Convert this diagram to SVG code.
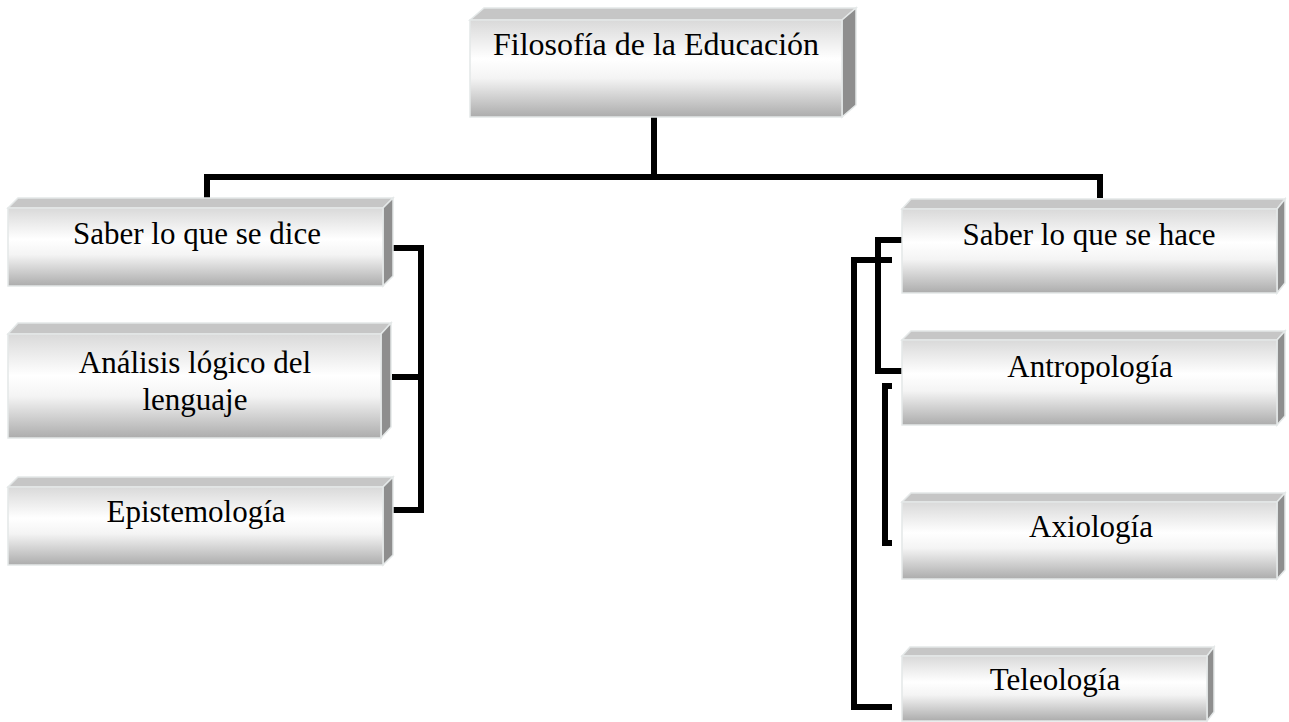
<svg xmlns="http://www.w3.org/2000/svg" width="1289" height="722" viewBox="0 0 1289 722">
<defs>
<linearGradient id="face" x1="0" y1="0" x2="0" y2="1">
<stop offset="0" stop-color="#d9d9d9"/>
<stop offset="0.4" stop-color="#ffffff"/>
<stop offset="0.6" stop-color="#f4f4f4"/>
<stop offset="1" stop-color="#acacac"/>
</linearGradient>
</defs>
<style>
.face{fill:url(#face);stroke:#e4e8e8;stroke-width:1.5}
.top{fill:#c6c6c6;stroke:#e4e8e8;stroke-width:1.5}
.side{fill:#8e8e8e;stroke:#e4e8e8;stroke-width:1.5}
.lbl{font-family:"Liberation Serif","Times New Roman",serif;font-size:31px;fill:#000;text-anchor:middle}
.conn{fill:none;stroke:#000;stroke-width:6;stroke-linejoin:miter;stroke-linecap:butt}
</style>
<rect width="1289" height="722" fill="#ffffff"/>
<g id="connectors">
<path class="conn" d="M654 117 V177"/>
<path class="conn" d="M207 198 V177 H1100 V198"/>
<path class="conn" d="M392 248 H421 V510 H392"/>
<path class="conn" d="M392 377 H421"/>
<path class="conn" d="M902 240 H878 V371 H902"/>
<path class="conn" d="M892 386 H885 V543 H892"/>
<path class="conn" d="M892 260 H854 V707 H892"/>
</g>
<g id="n-filosofia">
<polygon class="top" points="470,20 484,8 856,8 842,20"/>
<polygon class="side" points="842,20 856,8 856,105 842,117"/>
<rect class="face" x="470" y="20" width="372" height="97"/>
<text class="lbl" x="656" y="55" style="font-size:32px">Filosofía de la Educación</text>
</g>
<g id="n-saber-dice">
<polygon class="top" points="8,208 18,198 393,198 383,208"/>
<polygon class="side" points="383,208 393,198 393,276 383,286"/>
<rect class="face" x="8" y="208" width="375" height="78"/>
<text class="lbl" x="197" y="244">Saber lo que se dice</text>
</g>
<g id="n-analisis">
<polygon class="top" points="8,334 18,323 391,323 381,334"/>
<polygon class="side" points="381,334 391,323 391,427 381,438"/>
<rect class="face" x="8" y="334" width="373" height="104"/>
<text class="lbl" x="195" y="373">Análisis lógico del</text>
<text class="lbl" x="195" y="410">lenguaje</text>
</g>
<g id="n-epistemologia">
<polygon class="top" points="8,487 18,477 393,477 383,487"/>
<polygon class="side" points="383,487 393,477 393,555 383,565"/>
<rect class="face" x="8" y="487" width="375" height="78"/>
<text class="lbl" x="196" y="522">Epistemología</text>
</g>
<g id="n-saber-hace">
<polygon class="top" points="902,209 911,199 1285,199 1277,209"/>
<polygon class="side" points="1277,209 1285,199 1285,283 1277,293"/>
<rect class="face" x="902" y="209" width="375" height="84"/>
<text class="lbl" x="1089" y="245">Saber lo que se hace</text>
</g>
<g id="n-antropologia">
<polygon class="top" points="902,340 911,331 1285,331 1277,340"/>
<polygon class="side" points="1277,340 1285,331 1285,416 1277,425"/>
<rect class="face" x="902" y="340" width="375" height="85"/>
<text class="lbl" x="1090" y="377">Antropología</text>
</g>
<g id="n-axiologia">
<polygon class="top" points="902,502 911,493 1285,493 1277,502"/>
<polygon class="side" points="1277,502 1285,493 1285,570 1277,579"/>
<rect class="face" x="902" y="502" width="375" height="77"/>
<text class="lbl" x="1091" y="537">Axiología</text>
</g>
<g id="n-teleologia">
<polygon class="top" points="902,656 910,647 1214,647 1207,656"/>
<polygon class="side" points="1207,656 1214,647 1214,712 1207,721"/>
<rect class="face" x="902" y="656" width="305" height="65"/>
<text class="lbl" x="1055" y="690">Teleología</text>
</g>
</svg>
